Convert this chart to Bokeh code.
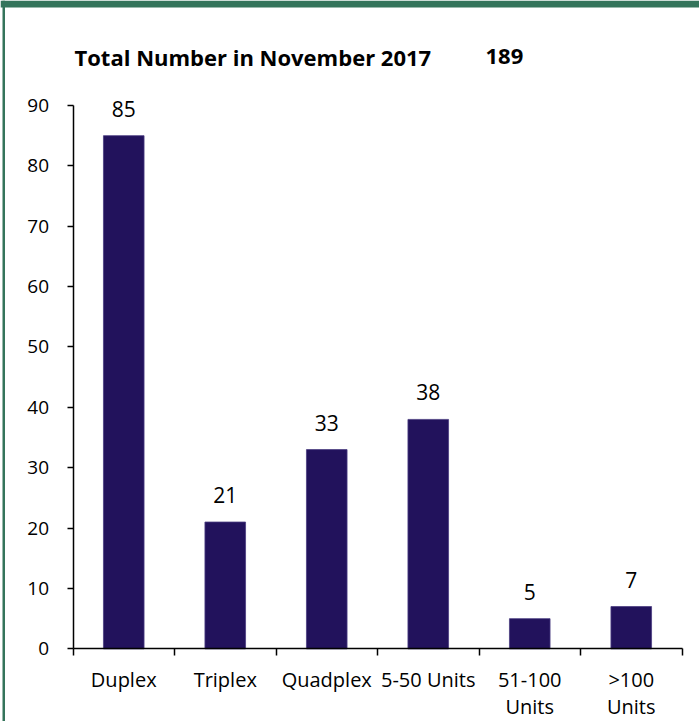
from bokeh.plotting import figure
from bokeh.models import (ColumnDataSource, Range1d, LinearAxis, FixedTicker,
                          LabelSet, Label, BoxAnnotation)
from bokeh.core.properties import value
from bokeh.embed import file_html
from bokeh.resources import INLINE

# ---- data ----
categories = ["Duplex", "Triplex", "Quadplex", "5-50 Units", "51-100\nUnits", ">100\nUnits"]
counts = [85, 21, 33, 38, 5, 7]
y_ticks = [0, 10, 20, 30, 40, 50, 60, 70, 80, 90]
title_text = "Total Number in November 2017"
total_text = "189"

# ---- styles ----
FONT = "Open Sans"
BAR_COLOR = "#22125C"
GREEN = "#34745B"

n = len(categories)
centers = [i + 0.5 for i in range(n)]
bounds = list(range(n + 1))

src = ColumnDataSource(dict(x=centers, count=counts, label=[str(c) for c in counts]))

p = figure(width=699, height=721,
           x_range=Range1d(-0.7143, 6.1724), y_range=Range1d(-12.04, 107.39),
           x_axis_location=None, y_axis_location=None,
           output_backend="svg", toolbar_location=None,
           min_border=0, min_border_left=0, min_border_right=0,
           min_border_top=0, min_border_bottom=0)
p.outline_line_color = None
p.grid.visible = False
p.background_fill_color = "white"
p.border_fill_color = "white"

p.vbar(x="x", top="count", width=0.4, bottom=0, source=src,
       fill_color=BAR_COLOR, line_color="#4A3C80", line_width=0.8)

yaxis = LinearAxis(ticker=FixedTicker(ticks=y_ticks), fixed_location=0, bounds=(0, 90))
yaxis.major_tick_out = 6
yaxis.major_tick_in = 0
yaxis.minor_tick_line_color = None
yaxis.axis_line_width = 1.5
yaxis.major_tick_line_width = 1.5
yaxis.major_label_standoff = 18
yaxis.major_label_text_font = FONT
yaxis.major_label_text_font_size = "19px"
yaxis.major_label_text_color = "black"
p.add_layout(yaxis, "left")

xaxis = LinearAxis(ticker=FixedTicker(ticks=bounds), fixed_location=0, bounds=(0, n))
xaxis.major_tick_out = 7
xaxis.major_tick_in = 0
xaxis.minor_tick_line_color = None
xaxis.axis_line_width = 1.5
xaxis.major_tick_line_width = 1.5
xaxis.major_label_text_font_size = "1px"
xaxis.major_label_text_alpha = 0
xaxis.major_label_standoff = 0
p.add_layout(xaxis, "below")

xlab = LinearAxis(ticker=FixedTicker(ticks=centers), fixed_location=0,
                  major_label_overrides={c: t for c, t in zip(centers, categories)})
xlab.axis_line_color = None
xlab.major_tick_line_color = None
xlab.minor_tick_line_color = None
xlab.major_tick_out = 0
xlab.major_label_standoff = 17
xlab.major_label_text_font = FONT
xlab.major_label_text_font_size = "20px"
xlab.major_label_text_color = "black"
xlab.major_label_text_line_height = 1.0
p.add_layout(xlab, "below")

labels = LabelSet(x="x", y="count", text="label", source=src, y_offset=19,
                  text_align="center", text_baseline="alphabetic",
                  text_font=value(FONT), text_font_size=value("21px"), text_color="black")
p.add_layout(labels)

p.add_layout(Label(x=0.0148, y=98.1, text=title_text,
                   text_font=FONT, text_font_style="bold", text_font_size="22px",
                   text_baseline="alphabetic", text_color="black"))
p.add_layout(Label(x=4.064, y=98.1, text=total_text,
                   text_font=FONT, text_font_style="bold", text_font_size="22px",
                   text_baseline="alphabetic", text_color="black"))

p.add_layout(BoxAnnotation(left=0, right=699, top=0, bottom=7,
                           left_units="canvas", right_units="canvas",
                           top_units="canvas", bottom_units="canvas",
                           fill_color=GREEN, fill_alpha=1, line_color=None))
p.add_layout(BoxAnnotation(left=2, right=4.5, top=0, bottom=721,
                           left_units="canvas", right_units="canvas",
                           top_units="canvas", bottom_units="canvas",
                           fill_color=GREEN, fill_alpha=1, line_color=None))

open("out.html", "w").write(file_html(p, INLINE))
